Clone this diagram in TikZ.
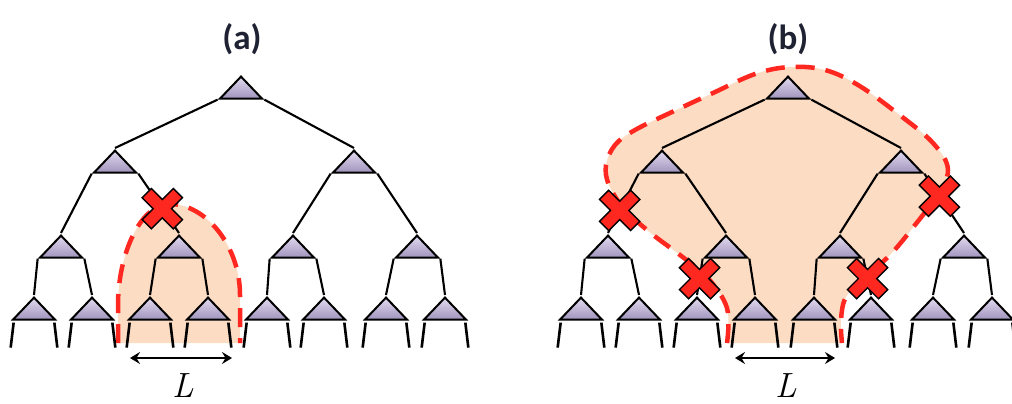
\documentclass[tikz,border=0pt]{standalone}
\usepackage{fontspec}
\newfontfamily\titlefont{Carlito}
\usetikzlibrary{shapes.geometric,arrows.meta,calc}

\definecolor{peach}{RGB}{252,220,195}
\definecolor{cutred}{RGB}{255,40,32}
\definecolor{lavtop}{RGB}{226,218,240}
\definecolor{lavbot}{RGB}{160,148,188}
\definecolor{titleink}{RGB}{30,34,50}

\pgfdeclarelayer{regionlayer}
\pgfdeclarelayer{edgelayer}
\pgfsetlayers{regionlayer,edgelayer,main}

\tikzset{
  tri/.style={isosceles triangle, isosceles triangle stretches, shape border rotate=90,
    minimum width=42pt, minimum height=22pt, inner sep=0pt, anchor=apex,
    draw=black, line width=2pt, line join=miter, top color=lavtop, bottom color=lavbot},
  treeedge/.style={line width=2.1pt},
  leg/.style={line width=2.6pt},
  cutline/.style={draw=cutred, line width=4.5pt, dash pattern=on 19pt off 11pt},
  cutmark/.pic={
    \path[fill=cutred, draw=black, line width=1.4pt, line join=miter, rotate=45]
      (-6.5,-22) -- (6.5,-22) -- (6.5,-6.5) -- (22,-6.5) -- (22,6.5) -- (6.5,6.5) -- (6.5,22)
      -- (-6.5,22) -- (-6.5,6.5) -- (-22,6.5) -- (-22,-6.5) -- (-6.5,-6.5) -- cycle;
  },
  span/.style={{Stealth[length=10pt,width=12pt,inset=3.5pt]}-{Stealth[length=10pt,width=12pt,inset=3.5pt]}, line width=2.2pt},
  title/.style={font=\titlefont\bfseries\fontsize{35}{40}\selectfont, text=titleink},
  lenlabel/.style={font=\fontsize{35}{40}\selectfont\itshape},
}

% complete binary tree of depth 3 with leaf stubs; #1 = name prefix, #2 = x offset
\newcommand\bintree[2]{%
  \node[tri] (#1r) at (241+#2,74) {};
  \foreach \i/\x in {1/115,2/354} \node[tri] (#1-1-\i) at (\x+#2,148) {};
  \foreach \i/\x in {1/61,2/179,3/293,4/417} \node[tri] (#1-2-\i) at (\x+#2,233) {};
  \foreach \i/\x in {1/34,2/92,3/150,4/208,5/267,6/324,7/386,8/445}
    \node[tri] (#1-3-\i) at (\x+#2,295) {};
  \begin{pgfonlayer}{edgelayer}
    \draw[treeedge] (#1r.left corner) -- (#1-1-1.apex);
    \draw[treeedge] (#1r.right corner) -- (#1-1-2.apex);
    \foreach \p/\c/\s in {1/1/left corner,1/2/right corner,2/3/left corner,2/4/right corner}
      \draw[treeedge] (#1-1-\p.\s) -- (#1-2-\c.apex);
    \foreach \p/\c/\s in {1/1/left corner,1/2/right corner,2/3/left corner,2/4/right corner,
                          3/5/left corner,3/6/right corner,4/7/left corner,4/8/right corner}
      \draw[treeedge] (#1-2-\p.\s) -- (#1-3-\c.apex);
    \foreach \c in {1,...,8} {
      \coordinate (#1-fl-\c) at ($(#1-3-\c.left corner)+(0,27)$);
      \coordinate (#1-fr-\c) at ($(#1-3-\c.right corner)+(0,27)$);
      \draw[leg] ([xshift=3pt,yshift=-2pt]#1-3-\c.left corner) -- (#1-fl-\c);
      \draw[leg] ([xshift=-3pt,yshift=-2pt]#1-3-\c.right corner) -- (#1-fr-\c);
    }
  \end{pgfonlayer}
}

\begin{document}
\begin{tikzpicture}[x=1pt,y=-1pt]
\useasboundingbox (0,0) rectangle (1012,404);

% subtree that is cut off in (a)
\begin{pgfonlayer}{regionlayer}
  \fill[peach] (118,343) -- (118,305) .. controls (118,255) and (140,204) .. (170,204)
    .. controls (205,204) and (240,245) .. (240,295) -- (240,343) -- cycle;
  \draw[cutline] (118,343) -- (118,305) .. controls (118,255) and (140,204) .. (170,204)
    .. controls (205,204) and (240,245) .. (240,295) -- (240,343);
\end{pgfonlayer}

% region kept in (b)
\begin{pgfonlayer}{regionlayer}
  \fill[peach] plot[smooth, tension=0.6] coordinates {
    (727,343) (727,308) (707,277) (680,255) (652,234) (625,210) (609,185) (606,165)
    (615,145) (635,130) (672,112) (713,93) (755,74) (790,67) (825,70) (858,85)
    (897,113) (933,143) (948,170) (935,198) (915,225) (890,255) (865,277) (846,297)
    (841,320) (842,343)} -- cycle;
  \draw[cutline] plot[smooth, tension=0.6] coordinates {
    (727,343) (727,308) (707,277) (680,255) (652,234) (625,210) (609,185) (606,165)
    (615,145) (635,130) (672,112) (713,93) (755,74) (790,67) (825,70) (858,85)
    (897,113) (933,143) (948,170) (935,198) (915,225) (890,255) (865,277) (846,297)
    (841,320) (842,343)};
\end{pgfonlayer}

\bintree{a}{0}
\bintree{b}{547}

% cut marks on severed edges
\pic at ($(a-1-1.right corner)!0.59!(a-2-2.apex)$) {cutmark};
\pic at ($(b-1-1.left corner)!0.62!(b-2-1.apex)$) {cutmark};
\pic at ($(b-2-2.left corner)!0.55!(b-3-3.apex)$) {cutmark};
\pic at ($(b-2-3.right corner)!0.55!(b-3-6.apex)$) {cutmark};
\pic at ($(b-1-2.right corner)!0.38!(b-2-4.apex)$) {cutmark};

% titles
\node[title] (ta) at (242,39) {(a)};
\node[title] (tb) at (788,39) {(b)};

% width markers
\coordinate (sa1) at (130,358);
\coordinate (sa2) at (232,358);
\draw[span] (sa1) -- (sa2);
\node[lenlabel] (La) at (183,386) {L};
\coordinate (sb1) at (735,358);
\coordinate (sb2) at (835,358);
\draw[span] (sb1) -- (sb2);
\node[lenlabel] (Lb) at (786,386) {L};
\end{tikzpicture}
\end{document}
